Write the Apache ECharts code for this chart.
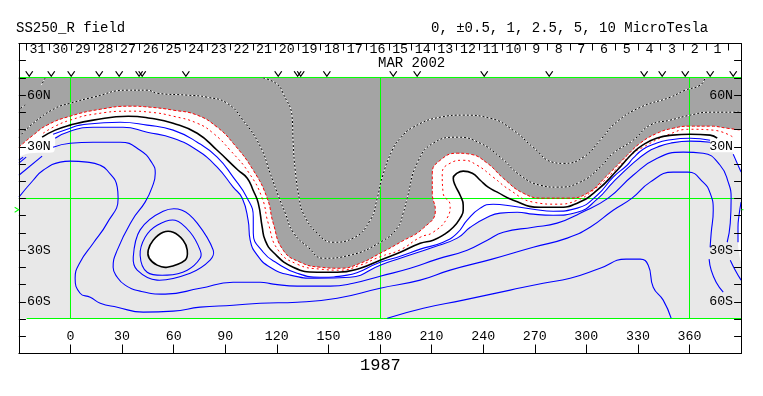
<!DOCTYPE html>
<html>
<head>
<meta charset="utf-8">
<style>html,body{margin:0;padding:0;background:#fff}#c{width:763px;height:396px}</style>
<script src="https://cdn.jsdelivr.net/npm/echarts@6/dist/echarts.min.js"></script>
</head>
<body>
<div id="c"></div>
<script>
const titleLeft = "SS250_R field";
const titleRight = "0, \u00b10.5, 1, 2.5, 5, 10 MicroTesla";
const monthLabel = "MAR 2002";
const rotationLabel = "1987";
const lonTicks = [0,30,60,90,120,150,180,210,240,270,300,330,360];
const latMinorTicks = [-80,-70,-60,-50,-40,-30,-20,-10,0,10,20,30,40,50,60,70,80];
const latLabelValues = [-60,-30,30,60];
const latLabelTexts = ["60S","30S","30N","60N"];
const dayLabels = [31,30,29,28,27,26,25,24,23,22,21,20,19,18,17,16,15,14,13,12,11,10,9,8,7,6,5,4,3,2,1];
const dayTickLons = [-25.8,-12.6,0.6,13.7,26.9,40.1,53.3,66.5,79.6,92.8,106,119.2,132.4,145.5,158.7,171.9,185.1,198.3,211.4,224.6,237.8,251,264.2,277.3,290.5,303.7,316.9,330.1,343.2,356.4,369.6,382.8];
const dayCenterLons = [-19.2,-6,7.2,20.3,33.5,46.7,59.9,73.1,86.2,99.4,112.6,125.8,139,152.1,165.3,178.5,191.7,204.9,218,231.2,244.4,257.6,270.8,283.9,297.1,310.3,323.5,336.7,349.8,363,376.2];
const obsMarkLons = [-24,-11.2,0.4,16.7,28.3,39.9,41.7,67.1,120.8,132.1,133.9,149.1,187.7,201.6,240.6,278.4,333.6,344.1,357.5,372,385.4];
const obsMarkLat = 72.4;
const greenLats = [70.26,0,-69.68];
const greenLons = [0,180.3,360];
const tiltMarkLat = -6.5;

const dotA1 = [[-14.7,70],[-17,65.8]];
const dotA2 = [[-26.3,54.4],[-30,51.6]];
const dotA = [[112.1,70],[120.2,66.4],[123.6,61.1],[128.9,47.2],[129.5,32.1],[130.7,16.4],[133,0.2],[135.3,-8.5],[143.5,-20.1],[152.8,-25.4],[164.4,-23],[174.3,-12.6],[178.4,0.2],[181.3,12.4],[187.1,28],[191.8,35],[199.3,41.4],[215,47.2],[228.4,48.4],[244.1,46.6],[257.5,39.6],[269.1,29.7],[280.7,21],[286.5,20.4],[298.2,23.9],[308,33.8],[317.4,44.2],[331.3,52.9],[348.8,58.8],[357.5,62.9],[366.2,65.8],[369.1,70]];
const dotB = [[-30,35.6],[-21.7,43.7],[-8.9,52.4],[-0.2,55.3],[13.2,58.8],[33,62.9],[44.6,62.9],[50.4,61.1],[67.9,60],[79.5,58.8],[91.1,55.3],[100.4,45.4],[110.3,30.4],[116.1,14.7],[121.4,0.2],[124.9,-8.5],[129.5,-19.6],[138.2,-28.3],[147,-34.7],[162.6,-32.9],[180.1,-25.4],[190,-17.2],[193.5,-8.5],[195.8,0.2],[201.6,20.5],[210.9,32.1],[224.9,35.6],[238.3,32.1],[249.9,24],[261.5,13.5],[273.2,7.7],[283,6.6],[296.4,9.5],[308,18.2],[315.6,26.3],[327.2,33.8],[337.1,42.6],[348.8,45.5],[360.4,48.4],[372,50.1],[390,50.1]];
const redOuter = [[-30,29.8],[-21.7,36.8],[-13.6,42.6],[-0.2,47.8],[17.3,51.8],[34.7,53.6],[46.4,53],[59.7,51.3],[73.7,48.4],[85.3,41.4],[94.6,32.1],[106.3,16.4],[114.4,0.2],[117.9,-14.3],[123.7,-30],[133.6,-37],[145.2,-39.9],[156.9,-40.5],[168.5,-37.6],[180.1,-31.8],[191.8,-25.4],[205.2,-17.2],[212.2,-6.8],[210.4,3.1],[210.4,14.7],[215,22.2],[224.9,26.3],[232.5,25.7],[242.4,20.5],[251.7,11.8],[263.3,3.1],[275,0.2],[289,0.2],[300.6,3.1],[312.2,13.5],[323.8,25.1],[331.3,32.1],[341.2,37.9],[350.5,40.8],[360.4,42],[372,42],[381.9,40.8],[390,39.7]];
const redInner = [[-15.9,37.9],[-8.9,42],[-0.2,45.5],[13.2,48.9],[34.7,50.7],[46.4,50.1],[59.7,47.8],[73.7,43.7],[83,37.9],[92.9,28],[103.9,14.7],[111.5,0.2],[115,-14.3],[120.8,-30],[131.8,-38.1],[145.2,-41],[156.9,-41.6],[168.5,-38.7],[180.1,-33.8],[191.8,-29.8],[203.4,-22.5],[210.9,-19.6],[219,-11.4],[220.8,-3.9],[216.7,3.1],[216.2,14.7],[220.8,20.5],[228.4,22.2],[236.5,19.3],[245.8,12.4],[255.7,4.8],[269.1,-2.1],[283,-3.3],[294.7,-1],[304,4.8],[315.6,15.3],[327.2,26.3],[333,29.8],[347,36.8],[360.4,40.2],[373.8,39.7],[385.4,35.6]];
const neutral = [[-16.5,35.6],[-8.9,39.7],[-0.2,42.6],[13.2,45.5],[33.6,47.8],[46.4,46.6],[59.7,43.7],[73.7,37.9],[85.3,28],[97.5,16.4],[102.8,11.8],[106.2,4.8],[109.2,-2.7],[111.5,-16.7],[113.2,-24.2],[117.9,-31.2],[129.5,-39.9],[143.5,-42.8],[155.1,-42.8],[168.5,-40.5],[180.1,-35.8],[191.8,-31.2],[203.4,-26],[210.9,-24.2],[216.7,-21.3],[222.6,-16.7],[226.6,-11.4],[228.4,-6.8],[228.4,-3.9],[226.6,1.9],[223.7,7.7],[222.6,11.8],[224.9,14.7],[228.4,15.9],[233.7,14.7],[238.3,10.6],[242.9,6.6],[248.2,3.7],[257.5,-1],[273.2,-5.1],[283,-5.1],[294.7,-2.7],[306.3,4.8],[317.9,16.4],[326.9,26.3],[332.7,31],[340.8,35],[350,36.8],[360.4,37.3],[372,36.8],[376.1,35]];
const blue1 = [[-10.1,37.3],[-0.2,40.8],[5.6,42.6],[28.9,44.3],[44.6,42.6],[59.7,39.7],[73.7,32.7],[85.3,24],[94.6,12.4],[102.8,0.2],[106.3,-10.9],[106.3,-20.1],[112.1,-31.2],[120.2,-37.6],[131.8,-43.4],[145.2,-45.7],[160.9,-44.5],[180.1,-37],[191.8,-33.5],[203.4,-29.4],[216.7,-25.4],[224.9,-20.1],[230.7,-12.6],[238.3,-5.6],[245.8,-3.3],[257.5,-4.5],[269.1,-6.2],[280.7,-7.4],[294.7,-5.6],[306.3,1.9],[315.6,12.4],[323.7,19.3],[327.2,23.4],[333,28.6],[340,31.8],[347,33.8],[360.4,35],[372,33.8]];
const blue2 = [[-8.9,35],[-0.2,39.1],[13.2,41.4],[30.6,41.4],[44.6,38.5],[59.7,35],[73.7,28],[85.3,18.2],[94.6,6.6],[99.9,0.2],[103.3,-12.6],[104.5,-24.2],[108.6,-32.9],[116.1,-39.9],[127.8,-44.5],[143.5,-46.3],[162.6,-45.7],[180.1,-38.7],[191.8,-34.7],[210.9,-28.3],[224.9,-23],[232.5,-16.7],[242.4,-10.9],[249.9,-8.5],[259.8,-8],[269.1,-9.1],[280.7,-9.7],[294.7,-8],[306.3,-0.4],[315.6,9.5],[327.2,20.5],[335.3,26.9],[341.2,29.8],[348.8,32.1],[360.4,33.3],[372,32.7]];
const blue3Left = [[-30,13.5],[-16.5,24.6]];
const blue3 = [[-10.1,29.8],[-0.2,32.1],[13.2,32.7],[28.9,32.7],[40.5,28],[47.5,20.5],[49.3,14.7],[47.5,6.6],[43.4,-2.1],[35.9,-12.6],[27.2,-30],[24.8,-39.9],[27.2,-45.7],[31.8,-50.3],[40.5,-53.8],[55.1,-55.5],[75.4,-52.1],[94.6,-48.6],[110.3,-48.6],[117.9,-49.7],[131.8,-50.9],[151,-50.9],[164.4,-49.2],[180.1,-45.1],[197.6,-40.5],[213.3,-35.2],[230.7,-30],[242.4,-24.2],[251.7,-19.6],[269.1,-16.7],[283,-14.3],[296.4,-8.5],[312.7,0.2],[327.2,13.5],[341.2,23.4],[356.3,26.9],[367.9,26.3],[377.8,19.3],[382.5,9.5],[384.2,0.2],[383.7,-14.3],[381.9,-25.4]];
const blue3Right = [[383.7,-35.8],[386.6,-41.6],[390,-47.4]];
const blue4 = [[-30,0.8],[-21.7,10.6],[-15.9,16.4],[-6,21.1],[-0.2,21.7],[9.7,21.1],[17.3,19.3],[21.3,16.4],[27.2,6.6],[27.7,0.2],[21.3,-14.3],[13.2,-26],[5.6,-37],[2.7,-46.3],[5.6,-55],[11.5,-57.3],[17.3,-60.8],[27.2,-63.1],[42.3,-66],[59.7,-65.4],[75.4,-63.1],[94.6,-62],[110.3,-60.8],[131.8,-60.2],[155.1,-57.9],[180.1,-52.1],[203.4,-47.4],[220.8,-41.6],[245.2,-35.2],[269.1,-28.3],[288.9,-23],[302.2,-16.7],[315.6,-6.8],[326.6,0.2],[337.1,9.5],[350.5,15.3],[359.2,15.3],[367.9,9.5],[372,3.1],[373.8,-6.8],[372.6,-20.1],[372,-28.3]];
const blue4Right = [[371.4,-35.2],[372.6,-41.6],[375.5,-48.6],[379.6,-54.4]];
const blue5 = [[184.2,-69.5],[205.2,-63.7],[228.4,-59],[255.7,-53.2],[274.9,-49.2],[290.6,-46.3],[308,-40.5],[323.1,-35.2],[331.3,-35.2],[336,-38.7],[338.9,-51.5],[344.7,-59],[349.3,-69.5]];
const blueEdgeA = [[385.4,25.7],[390,15.3]];
const blueEdgeB = [[390,-2.1],[388.8,-9.7],[388.2,-16.7],[388.2,-25.4]];
const blueEdgeC = [[-30,20.5],[-25.8,24]];
const blueEdgeD = [[-30,22.2],[-27.5,24]];
const lightLeftEdge = [[-30,24],[-23.4,26.3],[-10.1,26.9],[-8.9,34]];
const lightRightEdge = [[372,26.9],[385.4,26.9],[385.4,25.7],[390,15.3],[390,-2.1],[388.8,-9.7],[388.2,-16.7],[388.2,-25.4],[390,-37]];
const islandBlack = [[45.2,-30],[48.1,-24.2],[53.9,-19.6],[59.7,-19.6],[65.5,-24.2],[67.9,-30],[66.7,-35.8],[56.2,-39.9],[50.4,-38.7],[45.8,-34.7]];
const islandBlue1 = [[40.5,-32.9],[43.4,-22.5],[50.4,-15.5],[60.9,-12.6],[69.6,-19.6],[75.4,-30],[75.4,-34.7],[67.9,-41.6],[56.2,-44.5],[44.6,-42.8]];
const islandBlue2 = [[36.5,-34],[40.5,-18.2],[53.9,-7.4],[64.9,-6.8],[73.7,-14.3],[83,-30],[81.2,-35.8],[69.6,-43.4],[50.4,-47.4],[38.8,-41.6]];

const FONT = '"Liberation Mono", monospace';
const SMOOTH = 0.5;
function contour(data, color, width, dash, z) {
  return {type:'line', data, smooth:SMOOTH, symbol:'none', silent:true, animation:false, z:z||2,
    lineStyle:{color, width, type:dash||'solid'}};
}
function dotted(data) {
  return [contour(data,'#ffffff',1,'solid',2), contour(data,'#000000',1,[2,2],2)];
}
function island(points, stroke, width, fill) {
  return {type:'custom', coordinateSystem:'cartesian2d', data:[[points[0][0],points[0][1]]], silent:true, animation:false, z:2, clip:true,
    renderItem(params, api){
      return {type:'polygon', shape:{points:points.map(p=>api.coord(p)), smooth:0.35},
        style:{fill:fill||'none', stroke, lineWidth:width}};
    }};
}
function greenLine(data){
  return {type:'line', data, symbol:'none', silent:true, animation:false, z:1,
    lineStyle:{color:'#00ff00', width:1}};
}
const lightBoundary = lightLeftEdge.concat(blue2, lightRightEdge);
const series = [
  {type:'line', data:lightBoundary, smooth:SMOOTH, symbol:'none', silent:true, animation:false, z:0,
   lineStyle:{width:0, color:'#e8e8e8'}, areaStyle:{color:'#e8e8e8', opacity:1, origin:greenLats[2]}},
  {type:'line', data:redOuter, smooth:SMOOTH, symbol:'none', silent:true, animation:false, z:0,
   lineStyle:{width:0, color:'#a4a4a4'}, areaStyle:{color:'#a4a4a4', opacity:1, origin:greenLats[0]}},
];
greenLats.forEach((lat,i)=>series.push(greenLine([[i===2?-25.5:-30,lat],[390,lat]])));
greenLons.forEach(lon=>series.push(greenLine([[lon,greenLats[0]],[lon,greenLats[2]]])));
[dotA1,dotA2,dotA,dotB].forEach(d=>series.push(...dotted(d)));
series.push(contour(redOuter,'#ff0000',1,[3,2]));
series.push(contour(redInner,'#ff0000',1,[2,3]));
series.push(contour(neutral,'#000000',1.6));
[blue1,blue2,blue3Left,blue3,blue3Right,blue4,blue4Right,blue5,blueEdgeA,blueEdgeB,blueEdgeC,blueEdgeD]
  .forEach(d=>series.push(contour(d,'#0000ff',1.1)));
series.push(island(islandBlue2,'#0000ff',1.1));
series.push(island(islandBlue1,'#0000ff',1.1));
series.push(island(islandBlack,'#000000',1.6,'#ffffff'));
series.push({type:'scatter', data:obsMarkLons.map(l=>[l,obsMarkLat]), symbol:'path://M0 0L4 8L8 0', symbolSize:[7,5], silent:true, animation:false, z:5,
  itemStyle:{color:'none', borderColor:'#000', borderWidth:1, opacity:1}});
series.push({type:'scatter', data:[[-31.3,tiltMarkLat]], clip:false, symbol:'path://M0 0L6 4L0 8', symbolSize:[4,5], silent:true, animation:false, z:5,
  itemStyle:{color:'none', borderColor:'#00ff00', borderWidth:1, opacity:1}});
series.push({type:'scatter', data:[[390.8,tiltMarkLat]], clip:false, symbol:'rect', symbolSize:[2,1], silent:true, animation:false, z:5,
  itemStyle:{color:'#00ff00', opacity:1}});

const axisBase = {type:'value', z:3, splitLine:{show:false}, axisLine:{lineStyle:{color:'#000',width:1}, onZero:false},
  axisLabel:{show:true}, scale:false};
const labelStyle = {color:'#000', fontFamily:FONT, fontSize:13.3, inside:true, showMinLabel:true, showMaxLabel:true, hideOverlap:false};
const tickStyle = (len,vals)=>({show:true, inside:true, length:len, customValues:vals, lineStyle:{color:'#000',width:1}});
const latFmt = v => { const i = latLabelValues.indexOf(v); return i<0 ? '' : latLabelTexts[i]; };
const titleFont = s => ({fontFamily:FONT,fontSize:s,fontWeight:'normal',color:'#000'});
const option = {
  animation:false,
  backgroundColor:'#ffffff',
  textStyle:{fontFamily:FONT},
  title:[
    {text:titleLeft, left:16, top:21, padding:0, textStyle:titleFont(14)},
    {text:titleRight, left:431, top:21, padding:0, textStyle:titleFont(14)},
    {text:monthLabel, left:378, top:56, padding:0, textStyle:titleFont(14)},
    {text:rotationLabel, left:360, top:357, padding:0, textStyle:titleFont(17)}
  ],
  grid:{left:18.9, top:43.5, width:722.2, height:310, containLabel:false},
  xAxis:[
    {...axisBase, position:'bottom', min:-30, max:390, axisTick:tickStyle(9,lonTicks),
     axisLabel:{...labelStyle, margin:11, customValues:lonTicks, formatter:v=>String(v)}},
    {...axisBase, position:'top', min:-30, max:390, axisTick:tickStyle(7,dayTickLons),
     axisLabel:{...labelStyle, margin:-1, customValues:dayCenterLons, formatter:v=>String(dayLabels[dayCenterLons.indexOf(v)])}}
  ],
  yAxis:[
    {...axisBase, position:'left', min:-90, max:90, axisTick:tickStyle(7,latMinorTicks),
     axisLabel:{...labelStyle, margin:8, customValues:latLabelValues, formatter:latFmt}},
    {...axisBase, position:'right', min:-90, max:90, axisTick:tickStyle(7,latMinorTicks),
     axisLabel:{...labelStyle, margin:8, customValues:latLabelValues, formatter:latFmt}}
  ],
  series
};
echarts.init(document.getElementById('c'),null,{renderer:'canvas'}).setOption(option);
</script>
</body>
</html>
